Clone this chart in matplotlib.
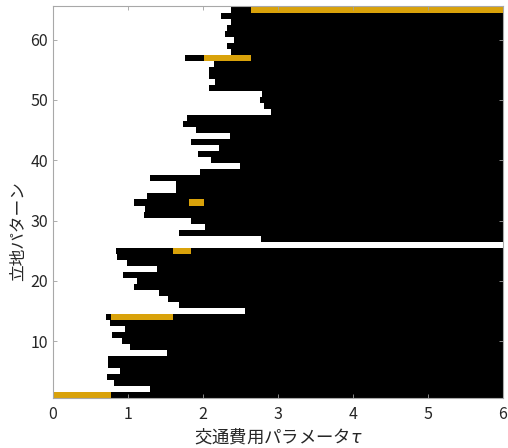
import numpy as np
import matplotlib
matplotlib.use("Agg")
import matplotlib.pyplot as plt

plt.rcParams['font.family'] = ['Noto Sans CJK JP', 'DejaVu Sans']
plt.rcParams['mathtext.fontset'] = 'custom'
plt.rcParams['mathtext.rm'] = 'Noto Sans CJK JP'
plt.rcParams['mathtext.it'] = 'DejaVu Sans:italic'

# pattern numbers 1..65
patterns = np.arange(1, 66)

# tau value where the black region starts for each pattern (nan = never)
black_start = [
    0.78, 1.30, 0.81, 0.72, 0.89, 0.73, 0.74, 1.52, 1.03, 0.92,
    0.79, 0.96, 0.76, 0.71, 2.56, 1.68, 1.53, 1.41, 1.08, 1.12,
    0.93, 1.39, 0.99, 0.85, 0.84, np.nan, 2.78, 1.68, 2.03, 1.84,
    1.22, 1.23, 1.08, 1.25, 1.64, 1.64, 1.29, 1.96, 2.49, 2.11,
    1.94, 2.21, 1.84, 2.36, 1.91, 1.73, 1.79, 2.91, 2.81, 2.76,
    2.79, 2.08, 2.16, 2.08, 2.08, 2.15, 1.76, 2.38, 2.32, 2.41,
    2.30, 2.32, 2.38, 2.24, 2.38,
]

# gold (stable) segments
gold_rows = [1, 14, 25, 33, 57, 65]
gold_left = [0.0, 0.78, 1.60, 1.81, 2.01, 2.64]
gold_right = [0.78, 1.60, 1.84, 2.01, 2.64, 6.0]

tau_max = 6.0

fig = plt.figure(figsize=(5.08, 4.48), dpi=100)
ax = fig.add_axes([0.1043, 0.1105, 0.8858, 0.875])

starts = np.array(black_start)
ok = ~np.isnan(starts)
ax.barh(patterns[ok], tau_max - starts[ok], left=starts[ok], height=1.0,
        color='black', linewidth=0)
ax.barh(gold_rows, np.array(gold_right) - np.array(gold_left), left=gold_left,
        height=1.0, color='#D9A20A', linewidth=0)

ax.set_xlim(0, 6)
ax.set_ylim(0.5, 65.5)
ax.set_xticks(range(0, 7))
ax.set_yticks([10, 20, 30, 40, 50, 60])
ax.tick_params(direction='in', length=3, width=0.6, colors='#a0a0a0',
               labelcolor='#262626', labelsize=11.5, top=True, right=True)
ax.tick_params(axis='x', pad=5.5)
for s in ax.spines.values():
    s.set_color('#a8a8a8')
    s.set_linewidth(0.8)

ax.set_xlabel('交通費用パラメータ$\\tau$', fontsize=12.5, color='#262626', labelpad=2.5)
ax.set_ylabel('立地パターン', fontsize=12, color='#262626')
ax.yaxis.set_label_coords(-0.058, 0.427)

fig.savefig('out.png', dpi=100)
